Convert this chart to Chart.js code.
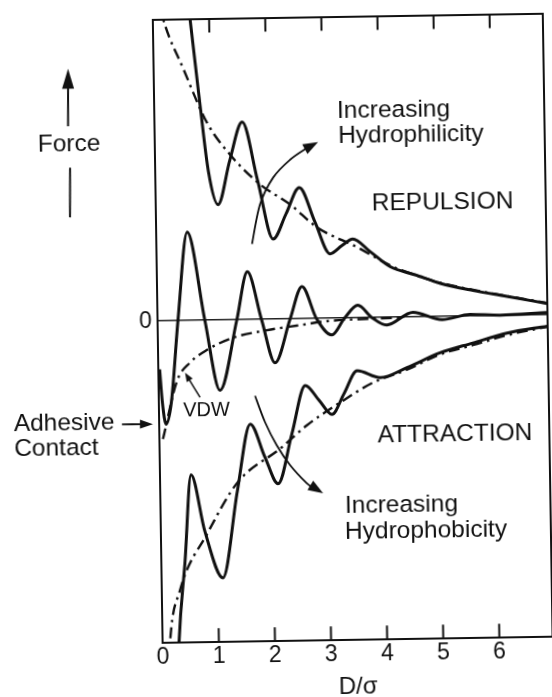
<!DOCTYPE html>
<html>
<head>
<meta charset="utf-8">
<script src="https://cdn.jsdelivr.net/npm/chart.js@4.4.1/dist/chart.umd.min.js"></script>
<style>
  html, body { margin: 0; padding: 0; background: #fff; overflow: hidden; }
  #wrap { width: 552px; height: 697px; transform: rotate(-0.9deg); transform-origin: 276px 348.5px; }
  canvas { display: block; }
</style>
</head>
<body>
<div id="wrap"><canvas id="forceChart" width="552" height="697"></canvas></div>
<script>
// Axis ticks (separation D/σ) and the single labelled force value
const xTicks = [0, 1, 2, 3, 4, 5, 6];
const yTicks = [0];

// Hydrophilic surfaces: oscillatory repulsion (solid)
const hydrophilicD = [0.58, 0.66, 0.815, 0.945, 1.107, 1.33, 1.56, 1.82, 2.08, 2.32, 2.56, 2.83, 3.09, 3.30, 3.50, 3.80, 4.16, 4.60, 5.05, 5.63, 6.23, 6.94];
const hydrophilicF = [11.5, 10.0, 7.13, 4.93, 3.83, 5.30, 6.55, 4.60, 2.66, 3.50, 4.35, 3.20, 2.14, 2.40, 2.62, 2.20, 1.68, 1.40, 1.10, 0.85, 0.64, 0.38];

// Monotonic repulsion envelope (dash-dot)
const repulsionD = [0.12, 0.18, 0.528, 0.93, 1.34, 1.86, 2.39, 2.86, 3.57, 4.21, 4.69, 5.05, 5.63, 6.23, 6.94];
const repulsionF = [10.5, 10.0, 8.34, 6.56, 5.47, 4.48, 3.80, 3.03, 2.35, 1.68, 1.34, 1.12, 0.87, 0.65, 0.40];

// Oscillatory solvation force about zero (solid)
const solvationD = [0.02, 0.06, 0.12, 0.22, 0.36, 0.55, 0.84, 1.09, 1.41, 1.61, 1.85, 2.08, 2.36, 2.58, 2.83, 3.10, 3.33, 3.57, 3.82, 4.08, 4.55, 5.07, 5.57, 6.10, 6.94];
const solvationF = [-1.6, -2.70, -3.42, -2.70, 0.0, 2.93, 0.0, -2.33, 0.0, 1.59, 0.0, -1.44, 0.0, 1.07, 0.0, -0.55, 0.0, 0.42, 0.0, -0.25, 0.16, -0.10, 0.06, 0.02, 0.08];

// Van der Waals attraction (dash-dot)
const vdwD = [0.06, 0.33, 0.56, 0.87, 1.34, 1.94, 2.53, 3.02, 3.60, 4.40];
const vdwF = [-3.91, -1.98, -1.40, -0.98, -0.59, -0.36, -0.21, -0.09, -0.04, -0.01];

// Hydrophobic surfaces: oscillatory attraction (solid)
const hydrophobicD = [0.27, 0.29, 0.42, 0.55, 0.78, 1.09, 1.37, 1.62, 1.87, 2.10, 2.36, 2.61, 2.85, 3.08, 3.30, 3.54, 3.95, 4.43, 5.02, 5.61, 6.22, 6.94];
const hydrophobicF = [-11.5, -10.65, -7.96, -5.11, -6.98, -8.54, -5.69, -3.46, -4.55, -5.45, -3.80, -2.21, -2.70, -3.18, -2.50, -1.75, -1.99, -1.67, -1.20, -0.89, -0.58, -0.37];

// Monotonic attraction envelope (dash-dot)
const attractionD = [0.11, 0.13, 0.32, 0.82, 1.39, 2.14, 2.63, 3.23, 3.82, 4.43, 5.02, 5.61, 6.22, 6.94];
const attractionF = [-11.3, -10.64, -8.94, -7.08, -5.36, -4.30, -3.53, -2.79, -2.15, -1.74, -1.25, -0.96, -0.65, -0.39];

const X_MAX = 6.94, Y_MIN = -10.67, Y_MAX = 10;
const FAMILY = '"Liberation Sans", Arial, Helvetica, sans-serif';
const INK = '#111';

const toPoints = (xs, ys) => xs.map((x, i) => ({ x, y: ys[i] }));
const solid = (xs, ys) => ({ data: toPoints(xs, ys), borderColor: INK, borderWidth: 3, borderDash: [] });
const dashDot = (xs, ys) => ({ data: toPoints(xs, ys), borderColor: INK, borderWidth: 2.4, borderDash: [11, 5, 2.5, 5] });

// Text placed in data units
const notes = [
  { text: 'Force', x: -1.531, y: 5.915, size: 24.5, align: 'center' },
  { text: 'Adhesive', x: -2.595, y: -3.343, size: 24.5, align: 'left' },
  { text: 'Contact', x: -2.595, y: -4.163, size: 24.5, align: 'left' },
  { text: 'VDW', x: 0.845, y: -2.98, size: 20, align: 'center' },
  { text: 'REPULSION', x: 5.11, y: 3.786, size: 24.5, align: 'center' },
  { text: 'ATTRACTION', x: 5.267, y: -3.898, size: 24.5, align: 'center' },
  { text: 'Increasing', x: 3.255, y: 6.857, size: 24.5, align: 'left' },
  { text: 'Hydrophilicity', x: 3.266, y: 6.037, size: 24.5, align: 'left' },
  { text: 'Increasing', x: 3.285, y: -6.237, size: 24.5, align: 'left' },
  { text: 'Hydrophobicity', x: 3.278, y: -7.09, size: 24.5, align: 'left' }
];

// Arrows in data units; head = [length, half-width] in px
const arrows = [
  { pts: [[-1.544, 6.506], [-1.528, 8.409]], head: [20, 6], width: 2 },
  { pts: [[-1.520, 5.125], [-1.535, 3.484]], head: null, width: 2 },
  { pts: [[-0.667, -3.40], [-0.114, -3.415]], head: [13, 4.5], width: 1.8 },
  { pts: [[0.733, -2.55], [0.472, -1.725]], head: [9, 3.5], width: 1.5 },
  { pts: [[1.702, 2.507], [1.856, 3.814], [2.096, 4.693], [2.403, 5.276], [2.710, 5.66], [2.907, 5.851]], head: [15, 5.5], width: 1.8 },
  { pts: [[1.713, -2.526], [1.884, -3.406], [2.086, -4.177], [2.317, -4.84], [2.61, -5.45], [2.90, -5.79]], head: [15, 5.5], width: 1.8 }
];

const decorations = {
  id: 'decorations',
  afterDatasetsDraw(chart) {
    const { ctx, chartArea: a, scales: { x, y } } = chart;
    const px = v => x.getPixelForValue(v);
    const py = v => y.getPixelForValue(v);
    ctx.save();
    ctx.strokeStyle = INK;
    ctx.fillStyle = INK;

    // inward tick marks on the top and bottom edges
    ctx.lineWidth = 2;
    xTicks.filter(v => v > 0).forEach(v => {
      const X = px(v);
      ctx.beginPath();
      ctx.moveTo(X, a.top); ctx.lineTo(X, a.top + 14);
      ctx.moveTo(X, a.bottom); ctx.lineTo(X, a.bottom - 14);
      ctx.stroke();
    });

    // arrows
    arrows.forEach(ar => {
      const p = ar.pts.map(([u, v]) => [px(u), py(v)]);
      const n = p.length;
      const tip = p[n - 1];
      if (ar.head) {
        const prev = p[n - 2];
        const dx = tip[0] - prev[0], dy = tip[1] - prev[1];
        const len = Math.hypot(dx, dy);
        const ux = dx / len, uy = dy / len;
        const [L, W] = ar.head;
        const bx = tip[0] - ux * L, by = tip[1] - uy * L;
        ctx.beginPath();
        ctx.moveTo(tip[0], tip[1]);
        ctx.lineTo(bx - uy * W, by + ux * W);
        ctx.lineTo(bx + uy * W, by - ux * W);
        ctx.closePath();
        ctx.fill();
        p[n - 1] = [bx + ux * 2, by + uy * 2];
      }
      ctx.lineWidth = ar.width;
      ctx.beginPath();
      ctx.moveTo(p[0][0], p[0][1]);
      for (let i = 0; i < n - 1; i++) {
        const p0 = p[i - 1] || p[i], p1 = p[i], p2 = p[i + 1], p3 = p[i + 2] || p[i + 1];
        ctx.bezierCurveTo(
          p1[0] + (p2[0] - p0[0]) / 6, p1[1] + (p2[1] - p0[1]) / 6,
          p2[0] - (p3[0] - p1[0]) / 6, p2[1] - (p3[1] - p1[1]) / 6,
          p2[0], p2[1]);
      }
      ctx.stroke();
    });

    // labels
    ctx.textBaseline = 'middle';
    notes.forEach(nt => {
      ctx.font = nt.size + 'px ' + FAMILY;
      ctx.textAlign = nt.align;
      ctx.fillText(nt.text, px(nt.x), py(nt.y));
    });
    ctx.restore();
  }
};

const frame = { display: true, color: INK, width: 2 };

new Chart(document.getElementById('forceChart'), {
  type: 'line',
  data: {
    datasets: [
      dashDot(repulsionD, repulsionF),
      dashDot(vdwD, vdwF),
      dashDot(attractionD, attractionF),
      solid(hydrophilicD, hydrophilicF),
      solid(solvationD, solvationF),
      solid(hydrophobicD, hydrophobicF)
    ]
  },
  options: {
    responsive: false,
    animation: false,
    devicePixelRatio: 1,
    layout: { padding: 0 },
    plugins: { legend: { display: false }, tooltip: { enabled: false } },
    elements: {
      point: { radius: 0 },
      line: { cubicInterpolationMode: 'monotone', capBezierPoints: false, borderCapStyle: 'butt', borderJoinStyle: 'round', fill: false }
    },
    scales: {
      x: {
        type: 'linear', position: 'bottom', min: 0, max: X_MAX,
        afterBuildTicks: s => { s.ticks = xTicks.map(v => ({ value: v })); },
        afterFit: s => { s.height = 55.8; },
        grid: { display: false, drawTicks: false },
        border: frame,
        ticks: { color: INK, font: { family: FAMILY, size: 23, lineHeight: 1 }, padding: 3, autoSkip: false, maxRotation: 0 },
        title: { display: true, text: 'D/σ', color: INK, font: { family: FAMILY, size: 24, lineHeight: 0.7 }, padding: 0 }
      },
      xTop: {
        type: 'linear', position: 'top', min: 0, max: X_MAX,
        afterFit: s => { s.height = 11.2; },
        grid: { display: false, drawTicks: false },
        ticks: { display: false },
        border: frame
      },
      y: {
        type: 'linear', position: 'left', min: Y_MIN, max: Y_MAX,
        afterBuildTicks: s => { s.ticks = yTicks.map(v => ({ value: v })); },
        afterFit: s => { s.width = 158.2; },
        grid: { display: true, drawTicks: false, color: '#222', lineWidth: 1.5 },
        border: frame,
        ticks: { color: INK, font: { family: FAMILY, size: 23, lineHeight: 1 }, padding: 6 }
      },
      yRight: {
        type: 'linear', position: 'right', min: Y_MIN, max: Y_MAX,
        afterFit: s => { s.width = 4.5; },
        grid: { display: false, drawTicks: false },
        ticks: { display: false },
        border: frame
      }
    }
  },
  plugins: [decorations]
});
</script>
</body>
</html>
